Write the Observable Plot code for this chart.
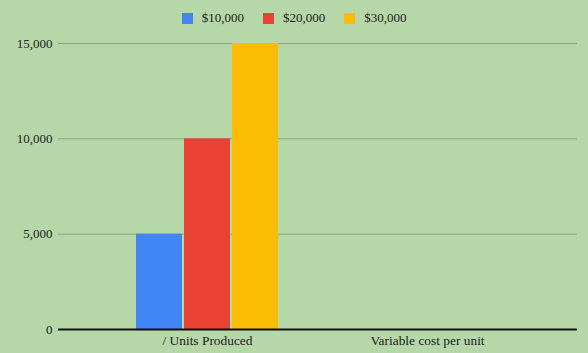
<!DOCTYPE html>
<html>
<head>
<meta charset="utf-8">
<script src="https://cdn.jsdelivr.net/npm/d3@7"></script>
<script src="https://cdn.jsdelivr.net/npm/@observablehq/plot@0.6"></script>
<style>
  html, body { margin: 0; padding: 0; background: #b6d7a8; }
  body { width: 588px; height: 353px; overflow: hidden; font-family: "Liberation Serif", serif; color: #222; }
  #legend { height: 36px; display: flex; justify-content: center; align-items: center; font-size: 13px; box-sizing: border-box; }
  .item { display: flex; align-items: center; margin: 0 9.5px; }
  .sw { width: 11px; height: 11px; margin-right: 9px; }
  #chart svg, #chart svg text { font-family: "Liberation Serif", serif !important; }
</style>
</head>
<body>
<div id="legend"></div>
<div id="chart"></div>
<script>
const categories = ["/ Units Produced", "Variable cost per unit"];
const series = ["$10,000", "$20,000", "$30,000"];
const unitsProduced = [5000, 10000, 15000];
const variableCost = [null, null, null]; // no bars shown for this category
const colors = ["#4285f4", "#ea4335", "#fbbc04"];
const yTicks = [0, 5000, 10000, 15000];

const data = [];
[unitsProduced, variableCost].forEach((vals, c) =>
  series.forEach((s, i) => data.push({category: categories[c], series: s, value: vals[i]})));

const legend = document.getElementById("legend");
series.forEach((s, i) => {
  const it = document.createElement("div");
  it.className = "item";
  it.innerHTML = `<span class="sw" style="background:${colors[i]}"></span><span>${s}</span>`;
  legend.appendChild(it);
});

// rule rows per facet: left facet extends to the left edge, right facet to the right edge
const gridFirst = yTicks.slice(1).map(v => ({category: categories[0], y: v}));
const gridLast = yTicks.slice(1).map(v => ({category: categories[1], y: v}));

const chart = Plot.plot({
  width: 588,
  height: 317,
  marginTop: 7,
  marginBottom: 24,
  marginLeft: 97,
  marginRight: 51,
  style: {background: "#b6d7a8", fontSize: "13px", color: "#222"},
  fx: {domain: categories, padding: 0, label: null},
  x: {domain: series, paddingInner: 0.04, paddingOuter: 0.79, axis: null},
  y: {domain: [0, 15000], label: null},
  color: {domain: series, range: colors},
  marks: [
    Plot.ruleY(gridFirst, {fx: "category", y: "y", stroke: "#8aa67f", strokeWidth: 1, insetLeft: -39}),
    Plot.ruleY(gridLast, {fx: "category", y: "y", stroke: "#8aa67f", strokeWidth: 1, insetRight: -40}),
    Plot.barY(data, {fx: "category", x: "series", y: "value", fill: "series"}),
    Plot.ruleY([{category: categories[0], y: 0}], {fx: "category", y: "y", stroke: "#111", strokeWidth: 2, insetLeft: -39}),
    Plot.ruleY([{category: categories[1], y: 0}], {fx: "category", y: "y", stroke: "#111", strokeWidth: 2, insetRight: -40}),
    Plot.axisY({ticks: yTicks, tickFormat: d3.format(","), tickSize: 0, tickPadding: 45, label: null, fill: "#222"}),
    Plot.axisFx({anchor: "bottom", tickSize: 0, tickPadding: 6, label: null, fill: "#222", fontSize: 13.4})
  ]
});
document.getElementById("chart").appendChild(chart);
</script>
</body>
</html>
